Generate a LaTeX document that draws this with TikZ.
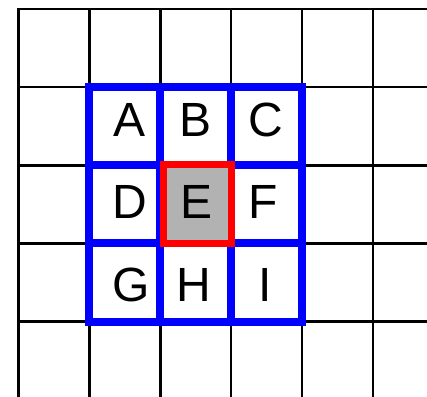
\documentclass[tikz,border=0pt]{standalone}
\usepackage{fontspec}
\setmainfont{Liberation Sans}
\begin{document}
\begin{tikzpicture}[
  x=1pt, y=-1pt,
  gridline/.style={draw=black, line width=2.4pt, line cap=rect},
  blueline/.style={draw=blue, line width=8pt},
  redbox/.style={draw=red, line width=7pt, fill=black!30},
  letter/.style={inner sep=0pt, font=\fontsize{48}{58}\selectfont},
]
\useasboundingbox (0,0) rectangle (427,396);
\clip (0,0) rectangle (427,396);

%% Background grid
\foreach \gx in {18.5, 89.4, 160.3, 231.2, 302.1, 373.0}
  \draw[gridline] (\gx,9) -- (\gx,420);
\foreach \gy in {9, 87.15, 165.3, 243.45, 321.6}
  \draw[gridline] (18.5,\gy) -- (450,\gy);

%% Blue neighbourhood
\draw[blueline] (89.4,87.15) rectangle (302.1,321.6);
\draw[blueline] (160.3,87.15) -- (160.3,321.6);
\draw[blueline] (231.2,87.15) -- (231.2,321.6);
\draw[blueline] (89.4,165.3) -- (302.1,165.3);
\draw[blueline] (89.4,243.45) -- (302.1,243.45);

%% Centre cell
\draw[redbox] (163,164) rectangle (231.5,243.5);

%% Labels
\node[letter] (a) at (129.5,120) {A};
\node[letter] (b) at (196,120) {B};
\node[letter] (c) at (266,120) {C};
\node[letter] (d) at (130,202) {D};
\node[letter] (e) at (196.5,202) {E};
\node[letter] (f) at (263,202) {F};
\node[letter] (g) at (131,284.5) {G};
\node[letter] (h) at (194,284.5) {H};
\node[letter] (i) at (265,284.5) {I};

\end{tikzpicture}
\end{document}
